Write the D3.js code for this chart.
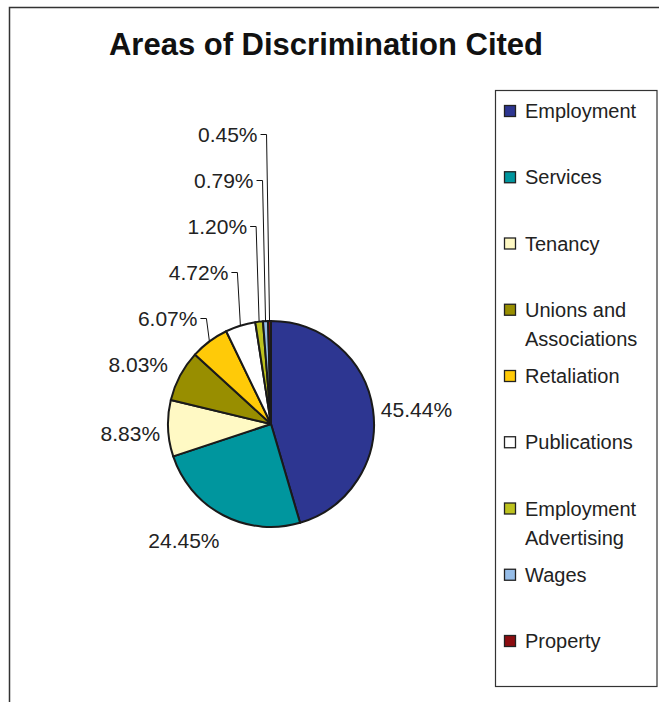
<!DOCTYPE html>
<html>
<head>
<meta charset="utf-8">
<script src="https://cdn.jsdelivr.net/npm/d3@7"></script>
<style>
  html, body { margin: 0; padding: 0; background: #fff; }
  svg { display: block; font-family: "Liberation Sans", Arial, sans-serif; }
</style>
</head>
<body>
<svg></svg>
<script>
var width = 659, height = 702;

// data
var categories = ["Employment", "Services", "Tenancy", "Unions and Associations", "Retaliation",
  "Publications", "Employment Advertising", "Wages", "Property"];
var legendLines = [["Employment"], ["Services"], ["Tenancy"], ["Unions and", "Associations"], ["Retaliation"],
  ["Publications"], ["Employment", "Advertising"], ["Wages"], ["Property"]];
var values = [45.44, 24.45, 8.83, 8.03, 6.07, 4.72, 1.20, 0.79, 0.45];
var colors = ["#2d3691", "#00969e", "#fff9c4", "#988e00", "#ffca08", "#ffffff", "#bdc21e", "#96bde8", "#8c0d10"];

var svg = d3.select("svg")
  .attr("width", width)
  .attr("height", height);

// chart area frame (runs off the right and bottom edges)
svg.append("path")
  .attr("d", "M9.5," + height + "V7.5H" + width)
  .attr("fill", "none")
  .attr("stroke", "#333")
  .attr("stroke-width", 1.5);

svg.append("text")
  .attr("x", 326)
  .attr("y", 55)
  .attr("text-anchor", "middle")
  .attr("font-size", 31)
  .attr("font-weight", "bold")
  .attr("fill", "#111")
  .text("Areas of Discrimination Cited");

// pie
var cx = 271, cy = 424, r = 103;

var pie = d3.pie().sort(null).value(function(d) { return d; });
var arcs = pie(values);
var arc = d3.arc().innerRadius(0).outerRadius(r);

var g = svg.append("g").attr("transform", "translate(" + cx + "," + cy + ")");

g.selectAll("path.slice")
  .data(arcs)
  .enter().append("path")
  .attr("class", "slice")
  .attr("d", arc)
  .attr("fill", function(d, i) { return colors[i]; })
  .attr("stroke", "#1a1a1a")
  .attr("stroke-width", 2)
  .attr("stroke-linejoin", "round");

// labels: big slices sit next to the rim, small ones are stacked up the left side
var fmt = function(v) { return v.toFixed(2) + "%"; };
var fontSize = 21;

arcs.forEach(function(d, i) {
  var a = (d.startAngle + d.endAngle) / 2;
  var s = Math.sin(a), c = Math.cos(a);
  var ex = r * s, ey = -r * c; // rim point

  if (i < 3) {
    var R = r + 8;
    var px = R * s, py = -R * c;
    var midY = py - c * 16 + 4;
    g.append("text")
      .attr("x", px)
      .attr("y", midY + 7.5)
      .attr("text-anchor", s >= 0 ? "start" : "end")
      .attr("font-size", fontSize)
      .attr("fill", "#222")
      .text(fmt(values[i]));
  } else {
    var baseY = 372 - (i - 3) * 46 - cy;
    var endX = ex - 12;
    var my = baseY - 7.5;
    g.append("text")
      .attr("x", endX)
      .attr("y", baseY)
      .attr("text-anchor", "end")
      .attr("font-size", fontSize)
      .attr("fill", "#222")
      .text(fmt(values[i]));
    if (ey - my > 20) {
      g.append("path")
        .attr("d", d3.line()([[endX + 3, my], [endX + 9, my], [ex, ey]]))
        .attr("fill", "none")
        .attr("stroke", "#111")
        .attr("stroke-width", 1);
    }
  }
});

// legend
var legend = svg.append("g");
legend.append("rect")
  .attr("x", 495.5)
  .attr("y", 90.5)
  .attr("width", 161.5)
  .attr("height", 596)
  .attr("fill", "#fff")
  .attr("stroke", "#333")
  .attr("stroke-width", 1.2);

var step = 66.25;
var items = legend.selectAll("g.item")
  .data(categories)
  .enter().append("g")
  .attr("class", "item")
  .attr("transform", function(d, i) { return "translate(0," + (118 + i * step) + ")"; });

items.append("rect")
  .attr("x", 504.5)
  .attr("y", -12.5)
  .attr("width", 11)
  .attr("height", 11)
  .attr("fill", function(d, i) { return colors[i]; })
  .attr("stroke", "#222")
  .attr("stroke-width", 1.3);

items.each(function(d, i) {
  var t = d3.select(this).append("text")
    .attr("x", 525)
    .attr("y", 0)
    .attr("font-size", 20)
    .attr("fill", "#222");
  legendLines[i].forEach(function(line, j) {
    t.append("tspan")
      .attr("x", 525)
      .attr("dy", j === 0 ? 0 : 29)
      .text(line);
  });
});
</script>
</body>
</html>
